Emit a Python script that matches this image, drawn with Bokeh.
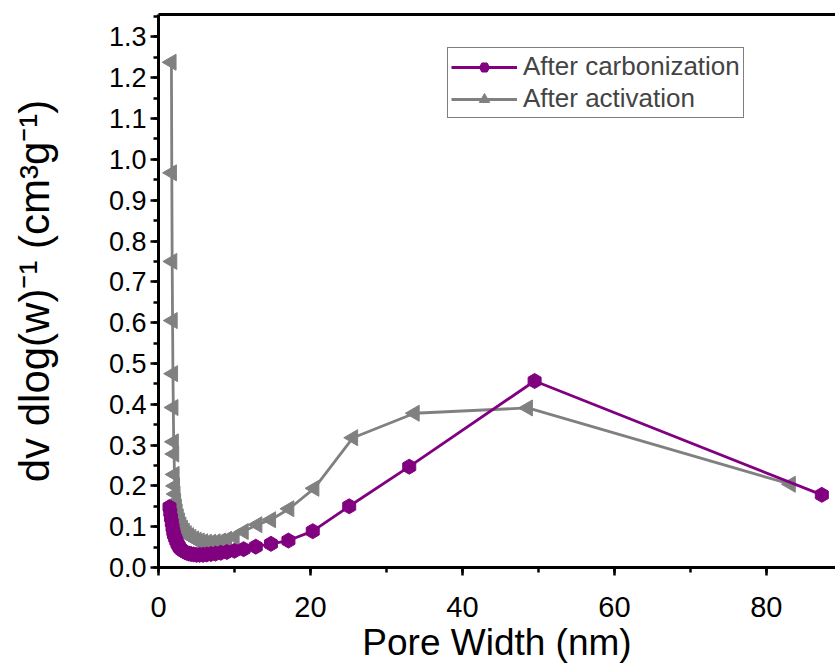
import math
from bokeh.plotting import figure
from bokeh.models import (Range1d, SingleIntervalTicker, FixedTicker, LinearAxis,
                          NumeralTickFormatter, Legend, LegendItem)
from bokeh.embed import file_html
from bokeh.resources import INLINE

# ---- data ----
carb_x = [1.45, 1.55, 1.65, 1.75, 1.85, 1.95, 2.05, 2.2, 2.35, 2.5, 2.65, 2.8, 3.0,
          3.2, 3.45, 3.7, 4.0, 4.3, 4.65, 5.0, 5.4, 5.85, 6.35, 6.9, 7.5,
          8.2, 9.0, 10.0, 11.2, 12.8, 14.8, 17.1, 20.3, 25.1, 33.0, 49.5, 87.3]
carb_y = [0.148, 0.135, 0.122, 0.110, 0.098, 0.088, 0.080, 0.072, 0.065,
          0.058, 0.053, 0.048, 0.044, 0.041, 0.038, 0.036, 0.034, 0.033,
          0.032, 0.031, 0.031, 0.031, 0.032, 0.033, 0.034, 0.036, 0.038,
          0.041, 0.045, 0.051, 0.058, 0.066, 0.089, 0.150, 0.247, 0.457, 0.178]

act_x = [1.7, 1.75, 1.8, 1.85, 1.9, 1.95, 2.0, 2.05, 2.1, 2.15, 2.22, 2.3,
         2.4, 2.5, 2.65, 2.8, 3.0, 3.2, 3.45, 3.7, 4.0, 4.3, 4.65, 5.0, 5.4,
         5.85, 6.35, 6.9, 7.5, 8.2, 9.0, 10.0, 11.2, 13.0, 14.8, 17.2, 20.5,
         25.6, 33.7, 48.6, 83.2]
act_y = [1.238, 0.967, 0.750, 0.605, 0.475, 0.392, 0.308, 0.278, 0.228,
         0.200, 0.180, 0.162, 0.148, 0.136, 0.124, 0.114, 0.104, 0.096,
         0.089, 0.083, 0.078, 0.074, 0.070, 0.067, 0.065, 0.063, 0.062,
         0.062, 0.063, 0.065, 0.069, 0.075, 0.088, 0.105, 0.117, 0.144,
         0.194, 0.318, 0.378, 0.391, 0.204]

x_start, x_end = 0, 89.1
y_start, y_end = 0, 1.355
x_tick_interval = 20
y_tick_interval = 0.1
x_title = "Pore Width (nm)"
y_title = "dv dlog(w)\u207b\u00b9 (cm\u00b3g\u207b\u00b9)"

FONT = "Liberation Sans"
PURPLE = "#800080"
GRAY = "#808080"

p = figure(width=835, height=672,
           x_range=Range1d(x_start, x_end), y_range=Range1d(y_start, y_end),
           output_backend="svg", toolbar_location=None,
           min_border_left=158, min_border_right=0,
           min_border_top=14, min_border_bottom=105)
p.grid.visible = False
p.outline_line_color = None
p.background_fill_color = "white"
p.border_fill_color = "white"

xa = p.xaxis[0]
ya = p.yaxis[0]
xa.ticker = SingleIntervalTicker(interval=x_tick_interval, num_minor_ticks=2)
ya.ticker = SingleIntervalTicker(interval=y_tick_interval, num_minor_ticks=2)
ya.formatter = NumeralTickFormatter(format="0.0")
xa.axis_label = x_title
ya.axis_label = y_title

for ax in (xa, ya):
    ax.axis_line_width = 3
    ax.axis_line_color = "black"
    ax.major_tick_line_width = 2.5
    ax.minor_tick_line_width = 2.5
    ax.major_tick_out = 8
    ax.major_tick_in = 0
    ax.minor_tick_out = 5
    ax.minor_tick_in = 0
    ax.major_label_text_font = FONT
    ax.major_label_text_color = "black"
    ax.axis_label_text_font = FONT
    ax.axis_label_text_font_style = "normal"
    ax.axis_label_text_color = "black"

xa.major_label_text_font_size = "29px"
ya.major_label_text_font_size = "27px"
xa.major_label_standoff = 21
ya.major_label_standoff = 4
xa.axis_label_text_font_size = "37px"
xa.axis_label_standoff = 2
ya.axis_label_text_font_size = "42px"
ya.axis_label_standoff = 48

top = LinearAxis(ticker=FixedTicker(ticks=[]),
                 major_tick_out=0, major_tick_in=0, minor_tick_out=0,
                 minor_tick_in=0, major_label_standoff=0, axis_line_width=3)
p.add_layout(top, "above")

l2 = p.line(act_x, act_y, line_color=GRAY, line_width=2.8)
m2 = p.scatter(act_x, act_y, marker="triangle", size=16, angle=math.pi / 2,
               fill_color=GRAY, line_color=GRAY)
l1 = p.line(carb_x, carb_y, line_color=PURPLE, line_width=2.8)
m1 = p.scatter(carb_x, carb_y, marker="hex", size=15, angle=math.pi / 6,
               fill_color=PURPLE, line_color=PURPLE)

legend = Legend(items=[LegendItem(label="After carbonization", renderers=[l1, m1]),
                       LegendItem(label="After activation", renderers=[l2, m2])],
                location=(289, 449), border_line_color="black",
                border_line_width=1, background_fill_alpha=1,
                label_text_font=FONT, label_text_font_size="26px",
                glyph_width=66, glyph_height=26, label_height=26,
                spacing=1, padding=3, label_standoff=6, margin=0)
p.add_layout(legend)

open("out.html", "w").write(file_html(p, INLINE))
